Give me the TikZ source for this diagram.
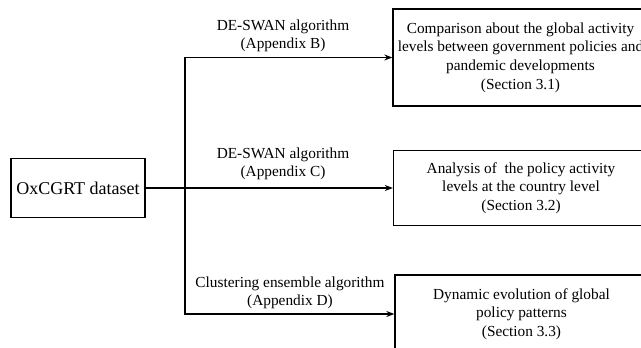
\documentclass[tikz,border=0pt]{standalone}
\usepackage{fontspec}
\setmainfont{Liberation Serif}
\usetikzlibrary{arrows.meta}

\begin{document}
\begin{tikzpicture} [x=0.75pt, y=-0.75pt, align=center,
  box/.style={draw, line width=1pt, inner sep=0pt, font=\fontsize{11.5}{14}\selectfont},
  lab/.style={font=\fontsize{11.5}{13.5}\selectfont},
  arr/.style={line width=0.8pt, -{Stealth[length=6pt, width=4.5pt]}}]
\path[use as bounding box, clip] (0,0) rectangle (641,347);

\path (78,188) node[box, minimum width=100.5pt, minimum height=44.25pt, font=\fontsize{13.5}{16}\selectfont] (data) {OxCGRT dataset}
(185,188) coordinate (split)
(520.5,57.5) node[box, minimum width=191.25pt, minimum height=72.75pt] (res1) {Comparison about the global activity\\levels between government policies and\\pandemic developments\\(Section 3.1)}
(521,188) node[box, minimum width=191.25pt, minimum height=56.25pt] (res2) {Analysis of \ the policy activity\\levels at the country level\\(Section 3.2)}
(521.5,314) node[box, minimum width=189.75pt, minimum height=58.5pt] (res3) {Dynamic evolution of global\\policy patterns\\(Section 3.3)}

(283,36) node[lab] (l1) {DE-SWAN algorithm\\(Appendix B)}
(283,164) node[lab] (l2) {DE-SWAN algorithm\\(Appendix C)}
(290,293) node[lab] (l3) {Clustering ensemble algorithm\\(Appendix D)};

\draw[line width=2pt] (data) -- (split);
\draw[arr] (split) |- (res1);
\draw[arr] (split) -- (res2);
\draw[arr] (split) |- (res3);
\end{tikzpicture}
\end{document}
